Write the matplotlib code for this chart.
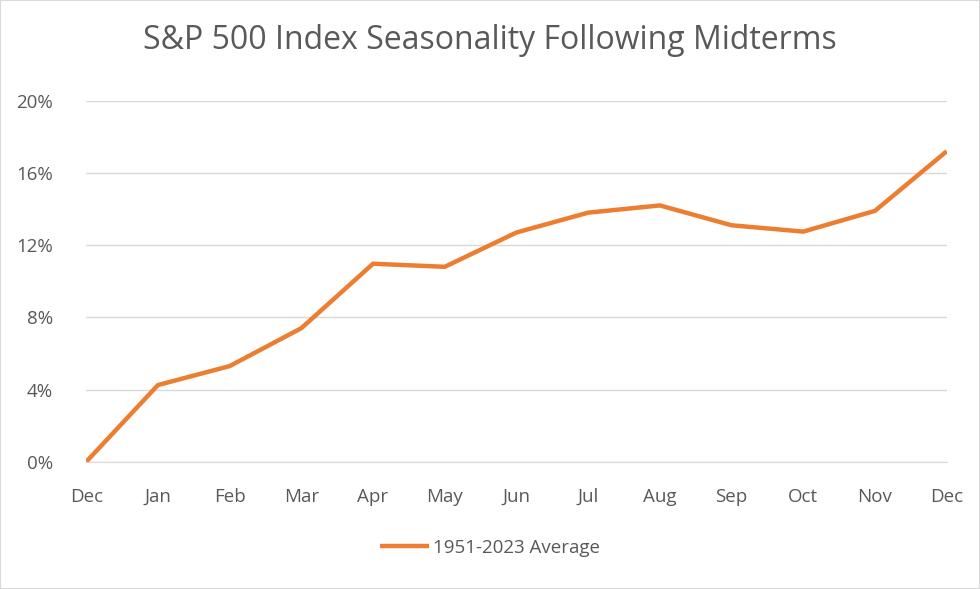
import matplotlib as mpl
mpl.use('Agg')
import matplotlib.pyplot as plt
from matplotlib.patches import Rectangle

months = ["Dec", "Jan", "Feb", "Mar", "Apr", "May", "Jun",
          "Jul", "Aug", "Sep", "Oct", "Nov", "Dec"]
avg_return = [0.0, 4.25, 5.3, 7.4, 10.97, 10.8, 12.7,
              13.8, 14.2, 13.1, 12.75, 13.9, 17.2]
y_ticks = [0, 4, 8, 12, 16, 20]

plt.rcParams['font.family'] = ['Open Sans', 'DejaVu Sans']
grey = "#595959"

fig = plt.figure(figsize=(9.8, 5.89), dpi=100)
ax = fig.add_axes([0.088, 0.216, 0.878, 0.613])

ax.plot(range(len(months)), avg_return, color="#ED7D31", lw=3.2,
        solid_capstyle="butt", label="1951-2023 Average", zorder=3)

ax.set_xlim(0, len(months) - 1)
ax.set_ylim(0, 20)
ax.set_xticks(range(len(months)))
ax.set_xticklabels(months)
ax.set_yticks(y_ticks)
ax.set_yticklabels([f"{t}%" for t in y_ticks])
ax.tick_params(axis='both', length=0, labelsize=13.5, colors=grey)
ax.tick_params(axis='x', pad=19)
ax.tick_params(axis='y', pad=24)
ax.grid(axis='y', color="#d9d9d9", lw=1)
for s in ax.spines.values():
    s.set_visible(False)
ax.spines['bottom'].set_visible(True)
ax.spines['bottom'].set_color("#d9d9d9")

fig.suptitle("S&P 500 Index Seasonality Following Midterms", y=0.96,
             fontsize=23, color=grey)
fig.legend(loc='center', bbox_to_anchor=(0.5, 0.07), frameon=False,
           fontsize=13.5, labelcolor=grey, handlelength=2.6, handletextpad=0.2)

fig.patches.append(Rectangle((0, 0), 1, 1, transform=fig.transFigure,
                             fill=False, edgecolor="#d9d9d9", lw=1.5))
fig.savefig("out.png", dpi=100)
